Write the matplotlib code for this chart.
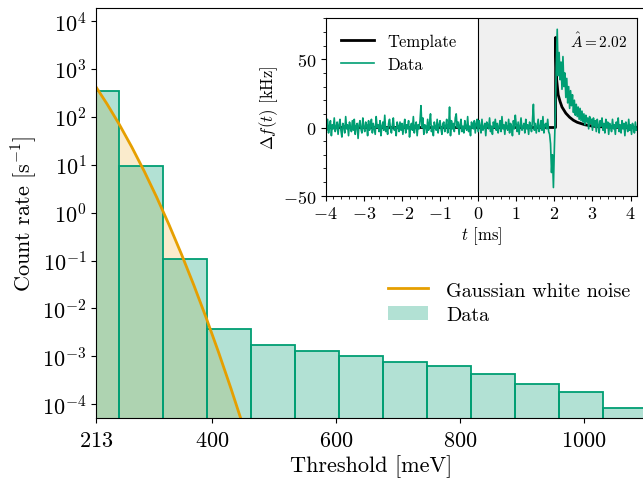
import numpy as np
import matplotlib
matplotlib.use("Agg")
import matplotlib.pyplot as plt
from matplotlib.patches import Patch
from matplotlib.lines import Line2D
from matplotlib.ticker import MultipleLocator, NullLocator

plt.rcParams['font.family'] = 'cmr10'
plt.rcParams['mathtext.fontset'] = 'cm'
plt.rcParams['axes.formatter.use_mathtext'] = True
plt.rcParams['axes.unicode_minus'] = True

green = '#009E73'
orange = '#E69F00'

# histogram of count rate vs threshold
bin_edges = [178.5, 249.5, 320.5, 391.5, 462.5, 533.5, 604.5, 675.5,
             746.5, 817.5, 888.5, 959.5, 1030.5, 1101.5]
rates = [347, 9.4, 0.106, 3.65e-3, 1.74e-3, 1.27e-3, 1.0e-3, 7.7e-4,
         6.2e-4, 4.3e-4, 2.7e-4, 1.83e-4, 8.5e-5]

# gaussian white noise expectation
noise_x = [213, 230, 250, 270, 290, 310, 330, 350, 370, 390, 410, 430, 450]
noise_rate = [405.5, 186, 68.8, 23.4, 7.34, 2.12, 0.562, 0.137, 0.0309,
              6.39e-3, 1.22e-3, 2.14e-4, 3.45e-5]

xticks = [213, 400, 600, 800, 1000]

# inset: trace sampled every 0.025 ms starting at -4 ms
trace_pre = [
    3, -2, 6, -4, 1, 5, -6, 2, -1, 7, -3, 0, 4, -5, 2, 6, -2, -7, 3, 1,
    -4, 8, -1, 2, -6, 4, 0, -3, 5, -2, 6, -5, 1, 3, -8, 2, 5, -1, -4, 7,
    0, -3, 4, 2, -6, 5, -2, 1, 6, -4, 3, -1, -5, 8, 0, 2, -3, 5, -6, 1,
    4, -2, 9, -3, 0, -5, 3, 6, -1, -4, 2, 7, -2, 0, -6, 4, 1, -3, 4, -2,
    3, -5, 1, 6, -4, 2, -1, 5, -7, 0, 3, -2, 8, -4, 1, 4, -6, 2, -1, 5,
    16, 0, 7, -5, 2, 1, -4, 6, -2, 3, 10, -3, 1, -6, 4, 0, -2, 6, -4, 2,
    5, -1, -5, 3, 4, -3, 1, 6, -4, 0, 15, -6, 5, -1, 3, -3, 7, 10, 0, 4,
    -5, 2, 6, -3, 1, -4, 5, 0, -2, 8, -3, 1, -6, 4, 2, -1, 5, -4, 3, 6,
]
trace_mid = [
    -3, 5, 1, -4, 6, -2, 0, 3, -6, 4, 2, -1, 7, -3, 1, -5, 4, 0, 6, -2,
    3, -4, 1, 5, -3, 8, -1, 2, -5, 4, 0, -2, 6, -4, 3, 1, -6, 5, -1, 9,
    2, -3, 4, -5, 1, 7, -2, 0, 3, -4, 6, -1, 2, -5, 4, 1, -3, 5, 17, -2,
    3, -4, 1, 6, -3, 0, 5, -2, 8, -4, 2, 3, -1, 6, -3,
]
trace_pulse = [
    -5, -12, -33, -20, -44, -15, 10, 45, 72, 38, 55, 35, 48, 28, 52, 30,
    40, 22, 36, 18, 30, 14, 27, 16, 24, 11, 20, 9, 17, 8, 15, 6, 14, 5,
    12, 4, 10, 2, 9, 4, 7, -1, 8, 3, 6, -2, 7, 1, 5, -3, 6, 2, -4, 5, 1,
    7, -2, 3, -4, 6, 0, 4, -5, 3, 1, -3, 6, -1, 2, -5, 4, 0, 7, -3, 2,
    -4, 5, -1, 3, -6, 4, 1, -3, 6, -2, 2, -5, 3, 0, -4, 4, -2,
]
template_t = [-4, 1.85, 1.97, 2.03, 2.035, 2.06, 2.1, 2.15, 2.2, 2.3, 2.4,
              2.5, 2.6, 2.8, 3.0, 3.3, 3.6, 4.16]
template_v = [0, 0, 0, 0, 66, 35, 24, 19, 15, 10.5, 7.5, 5.3, 3.8, 2.0, 1.0,
              0.4, 0.1, 0]
amp_text = r'$\hat{A} = 2.02$'

fig = plt.figure(figsize=(6.43, 4.81), dpi=100)
ax = fig.add_axes([0.15, 0.1283, 0.855, 0.8524])

ax.fill_between(noise_x, noise_rate, 1e-6, color=orange, alpha=0.2, lw=0)
edges = np.array(bin_edges)
ax.bar(edges[:-1], rates, width=np.diff(edges), align='edge',
       facecolor=(0.0, 0.62, 0.45, 0.3), edgecolor=green, lw=1.3)
ax.plot(noise_x, noise_rate, color=orange, lw=2)

ax.set_yscale('log')
ax.set_xlim(213, 1100)
ax.set_ylim(5.1e-5, 1.84e4)
ax.set_xticks(xticks)
ax.yaxis.set_minor_locator(NullLocator())
ax.tick_params(labelsize=16)
ax.tick_params(axis='x', pad=5)
ax.set_xlabel('Threshold [meV]', fontsize=16, labelpad=3)
ax.set_ylabel('Count rate [s$^{-1}$]', fontsize=16, labelpad=2)

handles = [Line2D([], [], color=orange, lw=2),
           Patch(facecolor=green, alpha=0.3, lw=0)]
ax.legend(handles, ['Gaussian white noise', 'Data'], fontsize=14.5,
          frameon=False, loc='upper left', bbox_to_anchor=(0.497, 0.378),
          handlelength=2.0, handletextpad=0.9, labelspacing=0.3)

# inset with pulse trace
ins = fig.add_axes([0.5065, 0.591, 0.4837, 0.3688])
trace = np.array(trace_pre + trace_mid + trace_pulse, dtype=float)
t = -4 + 0.025 * np.arange(len(trace))
ins.axvspan(0, 4.16, color='#f0f0f0', lw=0)
ins.axvline(0, color='black', lw=0.8)
ins.plot(template_t, template_v, color='black', lw=2, label='Template')
ins.plot(t, trace, color=green, lw=1.2, label='Data')
ins.set_xlim(-4, 4.16)
ins.set_ylim(-50, 80)
ins.xaxis.set_major_locator(MultipleLocator(1))
ins.xaxis.set_minor_locator(MultipleLocator(0.2))
ins.set_yticks([-50, 0, 50])
ins.yaxis.set_minor_locator(MultipleLocator(10))
ins.tick_params(labelsize=13)
ins.set_xlabel('$t$ [ms]', fontsize=12, labelpad=2)
ins.set_ylabel(r'$\Delta f(t)$ [kHz]', fontsize=12, labelpad=2)
ins.legend(loc='upper left', fontsize=12, frameon=False)
ins.text(0.97, 0.93, amp_text, transform=ins.transAxes, ha='right',
         va='top', fontsize=11)

fig.savefig('out.png', dpi=100)
